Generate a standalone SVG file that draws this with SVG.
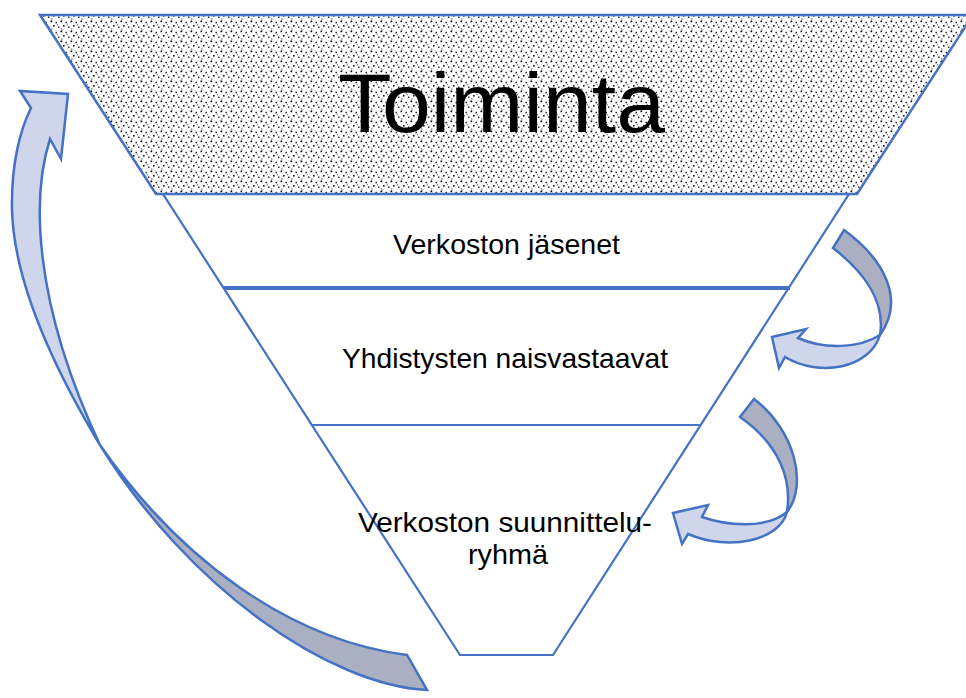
<svg xmlns="http://www.w3.org/2000/svg" width="966" height="698" viewBox="0 0 966 698">
<defs>
<pattern id="dots" width="10" height="10" patternUnits="userSpaceOnUse">
<rect width="10" height="10" fill="#ffffff"/>
<rect x="0.5" y="0.5" width="1.7" height="1.7" fill="#000"/>
<rect x="5.5" y="1.8" width="1.5" height="1.5" fill="#222"/>
<rect x="3" y="5" width="1.6" height="1.6" fill="#111"/>
<rect x="8" y="6.5" width="1.5" height="1.5" fill="#333"/>
<rect x="1.2" y="8.4" width="1.2" height="1.2" fill="#555"/>
<rect x="6.8" y="4.2" width="1.1" height="1.1" fill="#666"/>
</pattern>
<style>
.edge{fill:#fff;stroke:#4472C4;stroke-width:2.2;stroke-linejoin:miter}
.front{fill:#CFD5EA;stroke:#4472C4;stroke-width:2.5;stroke-linejoin:miter}
.back{fill:#AAAFC2;stroke:#4472C4;stroke-width:2.5;stroke-linejoin:miter}
.lbl{font-family:"Liberation Sans",Arial,sans-serif;font-size:28px;fill:#000;text-anchor:middle}
.big{font-family:"Liberation Sans",Arial,sans-serif;font-size:84px;fill:#000;text-anchor:middle}
</style>
</defs>
<g id="funnel-bottom">
<polygon class="edge" points="163,194 849,194 553,655 460,655"/>
</g>
<g id="toiminta">
<polygon points="40,15 973,15 857,194 156,194" fill="url(#dots)" stroke="#4472C4" stroke-width="2.5"/>
<text class="big" x="501.5" y="132" textLength="327" lengthAdjust="spacingAndGlyphs">Toiminta</text>
</g>
<g id="verkoston-jasenet">
<text class="lbl" x="506.5" y="254" textLength="227" lengthAdjust="spacingAndGlyphs">Verkoston jäsenet</text>
</g>
<g id="yhdistysten-naisvastaavat">
<line x1="224" y1="288" x2="790" y2="288" stroke="#4472C4" stroke-width="4"/>
<text class="lbl" x="505" y="368" textLength="326" lengthAdjust="spacingAndGlyphs">Yhdistysten naisvastaavat</text>
</g>
<g id="suunnitteluryhma">
<line x1="312" y1="425" x2="701" y2="425" stroke="#4472C4" stroke-width="2.2"/>
<text class="lbl" x="505" y="532" textLength="294" lengthAdjust="spacingAndGlyphs">Verkoston suunnittelu-</text>
<text class="lbl" x="508" y="564" textLength="80" lengthAdjust="spacingAndGlyphs">ryhmä</text>
</g>
<g id="connectors">
<g id="arrow-left">
<path class="back" d="M100,445 C180,560 290,640 407,655 L427,690 C330,685 190,590 100,445 Z"/>
<path class="front" d="M31,108 L20,91 L68,94 L61,159 L50,139 C32,195 32,300 100,445 C55,370 14,285 12,210 C11,165 20,130 31,108 Z"/>
</g>
<g id="arrow-right-top">
<path class="back" d="M880,335 C905,300 885,260 844,230 L833,248 C868,275 885,305 880,335 Z"/>
<path class="front" d="M798,338 C825,350 860,348 880,335 C870,368 820,378 785,357 L779,368 L772,337 L806,329 Z"/>
</g>
<g id="arrow-right-bottom">
<path class="back" d="M787,512 C808,485 795,430 754,399 L740,417 C780,445 792,480 787,512 Z"/>
<path class="front" d="M702,517 C725,525 765,530 787,512 C780,540 730,552 688,534 L682,544 L673,513 L708,505 Z"/>
</g>
</g>
</svg>
